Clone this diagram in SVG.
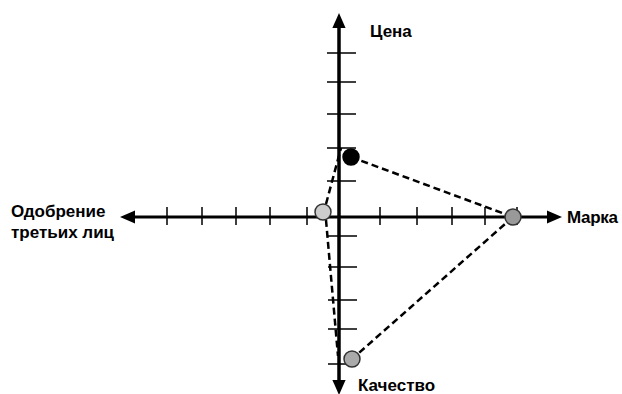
<svg xmlns="http://www.w3.org/2000/svg" width="622" height="394" viewBox="0 0 622 394">
<style>
.axis{stroke:#000;stroke-width:3;fill:none}
.tick{stroke:#000;stroke-width:1.5;fill:none}
.dash{stroke:#000;stroke-width:2.5;stroke-dasharray:7 4;fill:none}
.lbl{font-family:"Liberation Sans",Arial,sans-serif;font-weight:bold;font-size:17px;fill:#000}
.pt{stroke:#333;stroke-width:1.5}
</style>
<defs>
<marker id="ah" markerWidth="5" markerHeight="4.4" refX="0" refY="2.2" orient="auto" markerUnits="strokeWidth">
<path d="M0,0 L5,2.2 L0,4.4 Z" fill="#000"/>
</marker>
</defs>
<g id="axes">
<line class="axis" x1="339" y1="380" x2="339" y2="28" marker-end="url(#ah)"/>
<line class="axis" x1="339" y1="28" x2="339" y2="380" marker-end="url(#ah)"/>
<line class="axis" x1="339" y1="217" x2="547" y2="217" marker-end="url(#ah)"/>
<line class="axis" x1="339" y1="217" x2="135" y2="217" marker-end="url(#ah)"/>
</g>
<g id="ticks">
<path class="tick" d="M327,53H356M327,82H356M327,114H356M327,148H356M327,181H356M328,236H357M328,267H357M328,300H357M328,329H357M328,364H357"/>
<path class="tick" d="M167,207V225M202,207V225M236,207V225M270,207V225M307,207V225M380,207V225M417,207V225M452,207V225M485,207V225M517,207V225"/>
</g>
<g id="connectors">
<line class="dash" x1="351" y1="157" x2="513" y2="217"/>
<line class="dash" x1="513" y1="217" x2="352" y2="359"/>
<line class="dash" x1="326" y1="220" x2="338" y2="356"/>
<line class="dash" x1="326" y1="204" x2="341" y2="148"/>
</g>
<g id="point-price"><circle cx="351" cy="157" r="8" fill="#000" stroke="#000" stroke-width="1.5"/></g>
<g id="point-endorse"><circle class="pt" cx="323" cy="212" r="8" fill="#cccccc"/></g>
<g id="point-brand"><circle class="pt" cx="513" cy="217" r="8" fill="#999999"/></g>
<g id="point-quality"><circle class="pt" cx="352" cy="359" r="8" fill="#aaaaaa"/></g>
<g id="labels">
<text class="lbl" x="370" y="37">Цена</text>
<text class="lbl" x="567" y="223" textLength="51" lengthAdjust="spacing">Марка</text>
<text class="lbl" x="11" y="217">Одобрение</text>
<text class="lbl" x="11" y="238">третьих лиц</text>
<text class="lbl" x="358" y="391">Качество</text>
</g>
</svg>
